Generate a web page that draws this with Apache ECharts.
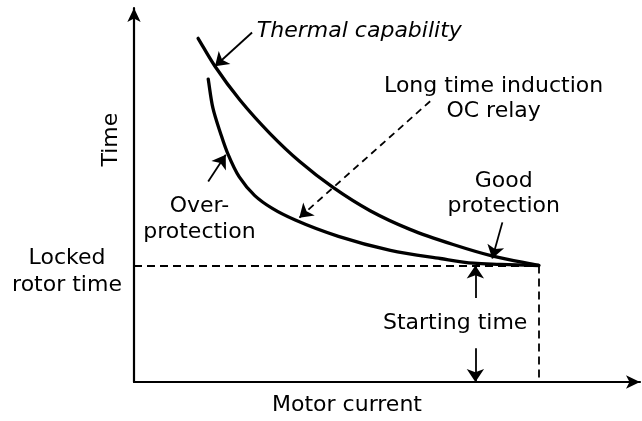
<!DOCTYPE html>
<html>
<head>
<meta charset="utf-8">
<script src="https://cdn.jsdelivr.net/npm/echarts@6/dist/echarts.min.js"></script>
<style>
  html, body { margin: 0; padding: 0; background: #ffffff; }
  #chart { width: 642px; height: 421px; }
</style>
</head>
<body>
<div id="chart"></div>
<script>
// Units: motor current in per-unit of rated current, time in per-unit of locked rotor time.
const lockedRotorCurrent = 6.0;
const lockedRotorTime = 1.0;
const startingCurrent = 5.06;
const startingTimeArrowTop = 0.72;
const startingTimeArrowBottom = 0.29;

// Motor thermal capability curve [current, time]
const thermalCapability = [
  [0.95, 2.95], [1.20, 2.71], [1.57, 2.42], [2.02, 2.13], [2.46, 1.89],
  [2.95, 1.67], [3.50, 1.47], [4.09, 1.31], [4.73, 1.18], [5.32, 1.08],
  [6.00, 1.00]
];

// Long time induction OC relay characteristic set too low [current, time]
const overProtection = [
  [1.10, 2.60], [1.17, 2.35], [1.28, 2.14], [1.39, 1.96], [1.56, 1.76],
  [1.79, 1.60], [2.05, 1.49], [2.39, 1.39], [3.03, 1.25], [3.80, 1.13],
  [4.54, 1.06], [5.03, 1.02], [5.43, 1.01], [6.00, 1.00]
];

// Annotation texts and their anchor points [current, time]
const noteTexts = ['Thermal capability', 'Long time induction\nOC relay', 'Good\nprotection',
                   'Over-\nprotection', 'Starting time', 'Time'];
const noteAnchors = [[3.34, 3.01], [5.33, 2.43], [5.48, 1.615], [0.97, 1.40], [4.76, 0.505], [-0.33, 2.08]];

// Pointer arrows: from -> to, and whether dashed
const pointerFrom = [[1.75, 3.00], [1.10, 1.72], [4.39, 2.41], [5.46, 1.37],
                     [startingCurrent, startingTimeArrowTop], [startingCurrent, startingTimeArrowBottom]];
const pointerTo = [[1.20, 2.71], [1.36, 1.95], [2.45, 1.41], [5.31, 1.06],
                   [startingCurrent, lockedRotorTime], [startingCurrent, 0]];
const pointerDashed = [false, false, true, false, false, false];

const yAxisLabelLines = ['Locked', 'rotor time'];
const xAxisName = 'Motor current';

const FONT = 'DejaVu Sans';
const INK = '#000000';

// Centripetal Catmull-Rom through screen points, returned as SVG path data
function smoothPath(pts) {
  const n = pts.length;
  if (n < 2) return '';
  const P = [[2 * pts[0][0] - pts[1][0], 2 * pts[0][1] - pts[1][1]], ...pts,
             [2 * pts[n - 1][0] - pts[n - 2][0], 2 * pts[n - 1][1] - pts[n - 2][1]]];
  const dist = (a, b) => Math.pow(Math.hypot(b[0] - a[0], b[1] - a[1]), 0.5) || 1e-6;
  let d = 'M' + pts[0][0].toFixed(2) + ',' + pts[0][1].toFixed(2);
  for (let i = 1; i < P.length - 2; i++) {
    const p0 = P[i - 1], p1 = P[i], p2 = P[i + 1], p3 = P[i + 2];
    const d1 = dist(p0, p1), d2 = dist(p1, p2), d3 = dist(p2, p3);
    const b1 = [0, 1].map(k => (d1 * d1 * p2[k] - d2 * d2 * p0[k] + (2 * d1 * d1 + 3 * d1 * d2 + d2 * d2) * p1[k]) / (3 * d1 * (d1 + d2)));
    const b2 = [0, 1].map(k => (d3 * d3 * p1[k] - d2 * d2 * p3[k] + (2 * d3 * d3 + 3 * d3 * d2 + d2 * d2) * p2[k]) / (3 * d3 * (d3 + d2)));
    d += ' C' + b1[0].toFixed(2) + ',' + b1[1].toFixed(2) + ' ' + b2[0].toFixed(2) + ',' + b2[1].toFixed(2) +
         ' ' + p2[0].toFixed(2) + ',' + p2[1].toFixed(2);
  }
  return d;
}

function curveSeries(name, values) {
  return {
    type: 'custom', name: name, silent: true, clip: false,
    data: [0],
    renderItem: (params, api) => ({
      type: 'path',
      shape: { pathData: smoothPath(values.map(v => api.coord(v))) },
      style: { stroke: INK, lineWidth: 3.3, fill: null, lineCap: 'round', lineJoin: 'round' }
    })
  };
}

const chart = echarts.init(document.getElementById('chart'), null, { renderer: 'canvas' });

const noteData = noteTexts.map((t, i) => {
  const item = { name: t, value: noteAnchors[i] };
  if (t === 'Thermal capability') item.label = { fontStyle: 'italic' };
  if (t === 'Time') item.label = { rotate: 90 };
  if (t.indexOf('Over-') === 0) item.label = { lineHeight: 26 };
  return item;
});

const pointerData = pointerFrom.map((p, i) => ({
  coords: [p, pointerTo[i]],
  lineStyle: { type: pointerDashed[i] ? [7, 5] : 'solid' }
}));

chart.setOption({
  animation: false,
  backgroundColor: '#ffffff',
  grid: { left: 134, right: 2, top: 8, bottom: 37 },
  xAxis: {
    type: 'value', min: 0, max: 7.5,
    axisLine: { lineStyle: { color: INK, width: 2.2 }, symbol: ['none', 'arrow'], symbolSize: [10, 14] },
    axisTick: { show: false },
    axisLabel: { show: false },
    splitLine: { show: false },
    name: xAxisName, nameLocation: 'middle', nameGap: 12,
    nameTextStyle: { fontFamily: FONT, fontSize: 22, color: INK, padding: [0, 80, 0, 0] }
  },
  yAxis: {
    type: 'value', min: 0, max: 3.21,
    axisLine: { lineStyle: { color: INK, width: 2.2 }, symbol: ['none', 'arrow'], symbolSize: [10, 14] },
    axisTick: { show: false },
    splitLine: { show: false },
    axisLabel: {
      customValues: [lockedRotorTime],
      formatter: () => '{s| }\n' + yAxisLabelLines.map(l => '{t|' + l + '}').join('\n'),
      align: 'center', margin: 67,
      rich: {
        s: { fontSize: 6, lineHeight: 12, fontFamily: FONT },
        t: { fontFamily: FONT, fontSize: 22, color: INK, lineHeight: 27, align: 'center' }
      }
    }
  },
  series: [
    curveSeries('Thermal capability', thermalCapability),
    curveSeries('Over-protection', overProtection),
    {
      // locked rotor time level and locked rotor current drop line
      type: 'lines', coordinateSystem: 'cartesian2d', silent: true,
      symbol: 'none',
      lineStyle: { color: INK, width: 1.8, type: [8, 5], opacity: 1 },
      data: [
        { coords: [[0, lockedRotorTime], [lockedRotorCurrent, lockedRotorTime]] },
        { coords: [[lockedRotorCurrent, lockedRotorTime], [lockedRotorCurrent, 0]] }
      ]
    },
    {
      type: 'lines', coordinateSystem: 'cartesian2d', silent: true,
      symbol: ['none', 'arrow'], symbolSize: [9, 13],
      lineStyle: { color: INK, width: 1.8, opacity: 1 },
      data: pointerData
    },
    {
      type: 'scatter', clip: false, silent: true, symbolSize: 0,
      itemStyle: { opacity: 1 },
      label: {
        show: true, position: 'inside', formatter: p => p.name,
        fontFamily: FONT, fontSize: 22, color: INK, lineHeight: 25, align: 'center'
      },
      data: noteData
    }
  ]
});
</script>
</body>
</html>
